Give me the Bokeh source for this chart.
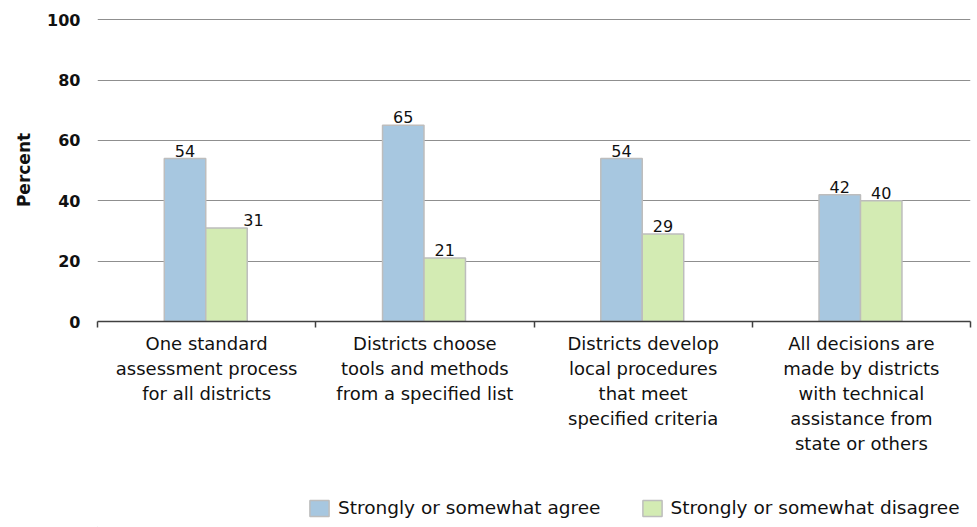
from bokeh.plotting import figure
from bokeh.models import (ColumnDataSource, Range1d, FixedTicker, Legend, LegendItem,
                          LinearAxis)
from bokeh.layouts import column
from bokeh.core.properties import value
from bokeh.embed import file_html
from bokeh.resources import INLINE

categories = [
    "One standard\nassessment process\nfor all districts",
    "Districts choose\ntools and methods\nfrom a specified list",
    "Districts develop\nlocal procedures\nthat meet\nspecified criteria",
    "All decisions are\nmade by districts\nwith technical\nassistance from\nstate or others",
]
agree = [54, 65, 54, 42]
disagree = [31, 21, 29, 40]
series_names = ["Strongly or somewhat agree", "Strongly or somewhat disagree"]
y_ticks = [0, 20, 40, 60, 80, 100]

BLUE = "#A7C7E0"
GREEN = "#D3EBB3"
EDGE = "#BDBDBD"
FONT = "DejaVu Sans"

n = len(categories)
centers = [i + 0.5 for i in range(n)]
bw = 0.19
shift = -0.004

src_a = ColumnDataSource(dict(x=[c - bw / 2 + shift for c in centers], top=agree,
                              label=[str(v) for v in agree]))
src_d = ColumnDataSource(dict(x=[c + bw / 2 + shift for c in centers], top=disagree,
                              label=[str(v) for v in disagree],
                              xo=[27, 0, 0, 0]))

p = figure(width=977, height=470, output_backend="svg", toolbar_location=None,
           x_range=Range1d(0, n), y_range=Range1d(0, 100.4),
           x_axis_location=None, y_axis_location=None,
           min_border_left=97, min_border_right=7, min_border_top=18,
           min_border_bottom=149)
p.outline_line_color = None
p.background_fill_color = "white"
p.border_fill_color = "white"

# y axis
yax = LinearAxis(ticker=FixedTicker(ticks=y_ticks))
yax.axis_line_color = None
yax.major_tick_line_color = None
yax.minor_tick_line_color = None
yax.major_tick_out = 0
yax.major_label_standoff = 17
yax.major_label_text_font = FONT
yax.major_label_text_font_size = "16px"
yax.major_label_text_font_style = "bold"
yax.major_label_text_color = "#111111"
yax.axis_label = "Percent"
yax.axis_label_text_font = FONT
yax.axis_label_text_font_size = "17px"
yax.axis_label_text_font_style = "bold"
yax.axis_label_text_color = "#111111"
yax.axis_label_standoff = 10
p.add_layout(yax, "left")

# x axis: labels at centers, boundary ticks as minor ticks
xax = LinearAxis(ticker=FixedTicker(ticks=centers, minor_ticks=list(range(n + 1))))
xax.major_label_overrides = {c: lab for c, lab in zip(centers, categories)}
xax.axis_line_color = "#404040"
xax.axis_line_width = 1.5
xax.major_tick_line_color = None
xax.major_tick_out = 0
xax.major_tick_in = 0
xax.minor_tick_line_color = "#404040"
xax.minor_tick_line_width = 1.5
xax.minor_tick_out = 6
xax.minor_tick_in = 0
xax.major_label_standoff = 5
xax.major_label_text_font = FONT
xax.major_label_text_font_size = "18px"
xax.major_label_text_color = "#111111"
xax.major_label_text_line_height = 1.2
p.add_layout(xax, "below")

p.xgrid.visible = False
p.ygrid.ticker = FixedTicker(ticks=y_ticks)
p.ygrid.grid_line_color = "#8F8F8F"
p.ygrid.grid_line_width = 1.2

p.vbar(x="x", top="top", width=bw, bottom=0, source=src_a,
       fill_color=BLUE, line_color=EDGE, line_width=1.5)
p.vbar(x="x", top="top", width=bw, bottom=0, source=src_d,
       fill_color=GREEN, line_color=EDGE, line_width=1.5)

p.text(x="x", y="top", text="label", source=src_a, text_align="center",
       text_baseline="bottom", y_offset=-2, text_font=value(FONT),
       text_font_size="16px", text_color="#111111")
p.text(x="x", y="top", text="label", source=src_d, text_align="center",
       text_baseline="bottom", y_offset=-2, x_offset="xo", text_font=value(FONT),
       text_font_size="16px", text_color="#111111")

# legend strip below the chart (swatch renderers sit outside the visible range)
lg = figure(width=977, height=57, output_backend="svg", toolbar_location=None,
            x_range=Range1d(0, 1), y_range=Range1d(0, 1),
            x_axis_location=None, y_axis_location=None,
            min_border_left=0, min_border_right=0, min_border_top=0,
            min_border_bottom=0)
lg.outline_line_color = None
lg.grid.visible = False
la = lg.vbar(x=[-5], top=[-5], width=0.1, fill_color=BLUE, line_color=EDGE, line_width=1.5)
ld = lg.vbar(x=[-5], top=[-5], width=0.1, fill_color=GREEN, line_color=EDGE, line_width=1.5)
legend = Legend(items=[LegendItem(label=series_names[0], renderers=[la]),
                       LegendItem(label=series_names[1], renderers=[ld])],
                orientation="horizontal", location=(210, 9),
                glyph_width=24, glyph_height=20, label_standoff=7, spacing=39,
                padding=0, margin=0, border_line_color=None,
                background_fill_alpha=0, label_text_font=FONT,
                label_text_font_size="18.5px", label_text_color="#111111",
                label_height=20)
lg.add_layout(legend, "center")

open("out.html", "w").write(file_html(column(p, lg, spacing=0), INLINE))
